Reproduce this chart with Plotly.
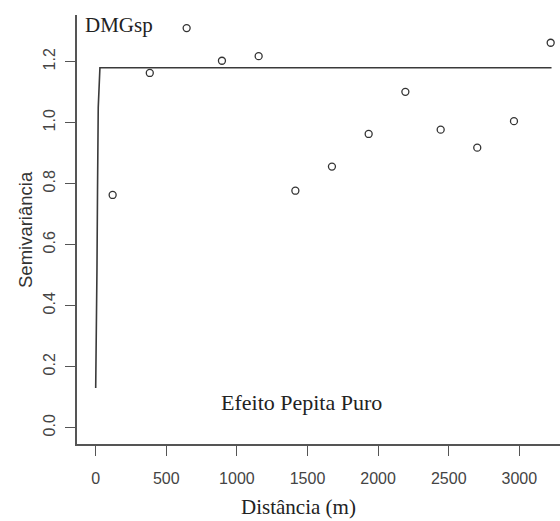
import plotly.graph_objects as go

# Empirical semivariogram points
dist = [120, 383, 644, 894, 1154, 1414, 1673, 1933, 2193, 2443, 2702, 2962, 3222]
semivar = [0.763, 1.163, 1.310, 1.203, 1.218, 0.777, 0.856, 0.963, 1.101, 0.977, 0.918, 1.005, 1.262]

# Fitted model line (pure nugget effect)
model_dist = [0, 4, 9, 13, 18, 30, 3228]
model_semivar = [0.13, 0.27, 0.52, 0.78, 1.05, 1.18, 1.18]

x_ticks = [0, 500, 1000, 1500, 2000, 2500, 3000]
y_ticks = [0.0, 0.2, 0.4, 0.6, 0.8, 1.0, 1.2]
y_tick_labels = ["0.0", "0.2", "0.4", "0.6", "0.8", "1.0", "1.2"]

fig = go.Figure()
fig.add_trace(go.Scatter(
    x=model_dist, y=model_semivar, mode="lines",
    line=dict(color="#3a3a3a", width=1.6), showlegend=False, hoverinfo="skip"))
fig.add_trace(go.Scatter(
    x=dist, y=semivar, mode="markers",
    marker=dict(symbol="circle-open", size=7, color="#333333", line=dict(width=1.3, color="#333333")),
    showlegend=False))

serif = "Liberation Serif, Times New Roman, serif"
sans = "Liberation Sans, Arial, sans-serif"

fig.update_layout(
    width=560, height=521,
    margin=dict(l=77, r=0, t=15, b=77),
    plot_bgcolor="white", paper_bgcolor="white",
    xaxis=dict(range=[-132.4, 3288], tickvals=x_ticks, showgrid=False, zeroline=False,
               showline=True, linecolor="#555555", linewidth=1.5,
               ticks="outside", ticklen=10, tickwidth=1.3, tickcolor="#555555",
               tickfont=dict(family=sans, size=16, color="#444444"),
               ticklabelstandoff=9),
    yaxis=dict(range=[-0.0534, 1.353], tickvals=y_ticks, ticktext=y_tick_labels,
               showgrid=False, zeroline=False,
               showline=True, linecolor="#555555", linewidth=1.5,
               ticks="outside", ticklen=10, tickwidth=1.3, tickcolor="#555555",
               tickangle=-90,
               tickfont=dict(family=sans, size=16, color="#444444"),
               ticklabelstandoff=4),
    annotations=[
        dict(text="DMGsp", x=-90, y=1.32, xref="x", yref="y", xanchor="left", yanchor="middle",
             showarrow=False, font=dict(family=serif, size=21, color="#222222")),
        dict(text="Efeito Pepita Puro", x=1454, y=0.084, xref="x", yref="y",
             xanchor="center", yanchor="middle",
             showarrow=False, font=dict(family=serif, size=22, color="#222222")),
        dict(text="Distância (m)", x=(298 - 77) / 483, y=(444 - 507) / 429, xref="paper", yref="paper",
             xanchor="center", yanchor="middle",
             showarrow=False, font=dict(family=serif, size=21, color="#222222")),
        dict(text="Semivariância", x=(25 - 77) / 483, y=(444 - 230) / 429, xref="paper", yref="paper",
             xanchor="center", yanchor="middle", textangle=-90,
             showarrow=False, font=dict(family=sans, size=18.5, color="#333333")),
    ],
)

fig.write_html("out.html")
